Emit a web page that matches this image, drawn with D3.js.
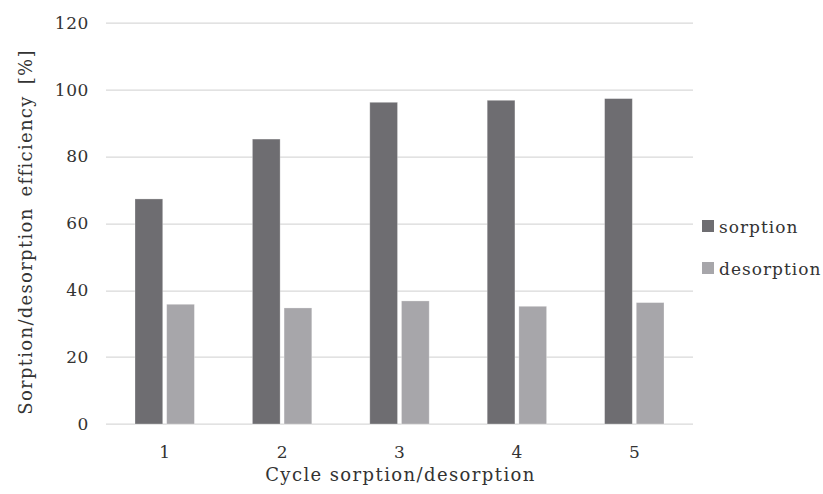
<!DOCTYPE html>
<html>
<head>
<meta charset="utf-8">
<script src="https://cdn.jsdelivr.net/npm/d3@7"></script>
<style>
  body { margin: 0; background: #fff; }
  text { font-family: "DejaVu Serif", serif; fill: #333; }
</style>
</head>
<body>
<div id="chart"></div>
<script>
// data
let cycles = ["1", "2", "3", "4", "5"]
let sorption = [67.3, 85.2, 96.2, 96.8, 97.3]
let desorption = [35.8, 34.7, 36.8, 35.2, 36.3]
let seriesNames = ["sorption", "desorption"]
let yTicks = [0, 20, 40, 60, 80, 100, 120]

let colors = {sorption: "#6e6d71", desorption: "#a7a6aa"}

var W = 823, H = 494
var margin = {top: 22.7, right: 130, bottom: 70, left: 106}
var width = 693 - margin.left,
    height = 424 - margin.top

var svg = d3.select("#chart")
  .append("svg")
    .attr("width", W)
    .attr("height", H)

var g = svg.append("g")
    .attr("transform", `translate(${margin.left}, ${margin.top})`)

let data = cycles.map((c, i) => ({cycle: c, sorption: sorption[i], desorption: desorption[i]}))

var x = d3.scaleBand()
  .domain(cycles)
  .range([0, width])

var x1 = d3.scaleBand()
  .domain(seriesNames)
  .range([x.bandwidth()/2 - 29.7, x.bandwidth()/2 + 29.7])
  .paddingInner(0.125)

var y = d3.scaleLinear()
  .domain([0, 120])
  .range([height, 0])

// gridlines
g.append("g")
  .selectAll("line")
  .data(yTicks)
  .join("line")
  .attr("x1", 0)
  .attr("x2", width)
  .attr("y1", d => Math.round(y(d)) + 0.5)
  .attr("y2", d => Math.round(y(d)) + 0.5)
  .attr("stroke", "#d9d9d9")
  .attr("stroke-width", 1.3)

// y axis labels
let yAxis = g.append("g")
  .call(d3.axisLeft(y).tickValues(yTicks).tickSize(0).tickPadding(17))
yAxis.select(".domain").remove()
yAxis.selectAll("text")
  .style("font-family", "DejaVu Serif")
  .style("font-size", "17px")
  .style("letter-spacing", "0.6px")
  .attr("fill", "#333")

// bars
let groups = g.selectAll(".cycle")
  .data(data)
  .join("g")
  .attr("class", "cycle")
  .attr("transform", d => `translate(${x(d.cycle)},0)`)

groups.selectAll("rect")
  .data(d => seriesNames.map(k => ({key: k, value: d[k]})))
  .join("rect")
  .attr("x", d => x1(d.key))
  .attr("y", d => y(d.value))
  .attr("width", x1.bandwidth())
  .attr("height", d => y(0) - y(d.value))
  .attr("fill", d => colors[d.key])
  .attr("stroke", "#ffffff")
  .attr("stroke-opacity", 0.35)
  .attr("stroke-width", 0.8)

// x axis labels
let xAxis = g.append("g")
  .attr("transform", `translate(0, ${height})`)
  .call(d3.axisBottom(x).tickSize(0).tickPadding(22))
xAxis.select(".domain").remove()
xAxis.selectAll("text")
  .style("font-family", "DejaVu Serif")
  .style("font-size", "17px")
  .attr("fill", "#333")

// axis titles
svg.append("text")
  .attr("x", margin.left + width/2 + 1)
  .attr("y", 481)
  .attr("text-anchor", "middle")
  .style("font-size", "18px")
  .style("letter-spacing", "1.4px")
  .text("Cycle sorption/desorption")

svg.append("text")
  .attr("transform", "translate(32, 232) rotate(-90)")
  .attr("text-anchor", "middle")
  .style("font-size", "18px")
  .style("letter-spacing", "1.3px")
  .style("word-spacing", "4px")
  .text("Sorption/desorption efficiency [%]")

// legend
let legend = svg.append("g")
  .selectAll("g")
  .data(seriesNames)
  .join("g")
  .attr("transform", (d, i) => `translate(702, ${220 + i*42})`)

legend.append("rect")
  .attr("width", 12)
  .attr("height", 12)
  .attr("fill", d => colors[d])

legend.append("text")
  .attr("x", 17)
  .attr("y", 12.5)
  .style("font-size", "17px")
  .style("letter-spacing", "1px")
  .text(d => d)
</script>
</body>
</html>
